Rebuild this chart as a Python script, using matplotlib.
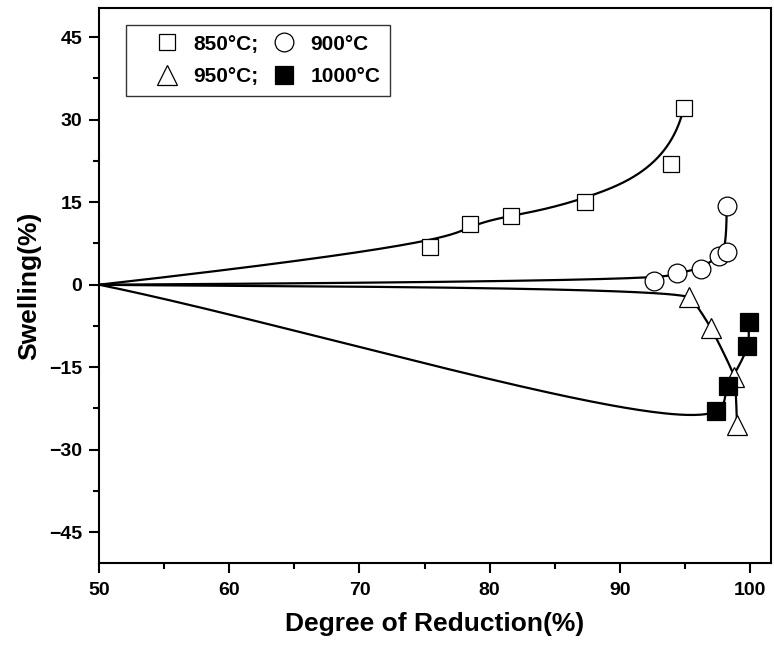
import numpy as np
import matplotlib
matplotlib.use('Agg')
import matplotlib.pyplot as plt
from matplotlib.ticker import MultipleLocator

# data (degree of reduction %, swelling %)
x850 = [75.4, 78.5, 81.6, 87.3, 93.9, 94.9]
y850 = [6.8, 11.0, 12.5, 15.1, 22.0, 32.1]
x900 = [92.6, 94.4, 96.2, 97.6, 98.2, 98.2]
y900 = [0.6, 2.2, 2.8, 5.3, 6.0, 14.3]
x950 = [95.3, 97.0, 98.8, 99.0]
y950 = [-2.3, -7.9, -16.8, -25.6]
x1000 = [97.4, 98.3, 99.8, 99.9]
y1000 = [-23.0, -18.5, -11.1, -6.7]
start = (50.0, 0.0)   # every fitted curve starts from the origin of the x-axis
labels = ['850°C;', '900°C', '950°C;', '1000°C']

SC = np.array([13.02, 5.51])   # data units -> screen pixels, for chord lengths


def bspline(xs, ys, n=600, k=3):
    # clamped cubic B-spline with the points as control points
    P = np.column_stack([xs, ys])
    m = len(P)
    kn = np.concatenate([[0] * k, np.arange(m - k + 1), [m - k] * k]).astype(float)
    u = np.linspace(0, m - k, n)
    u[-1] -= 1e-9
    N = np.array([(kn[i] <= u) & (u < kn[i + 1]) for i in range(len(kn) - 1)], float)
    for d in range(1, k + 1):
        Nn = np.zeros((len(kn) - 1 - d, n))
        for i in range(len(kn) - 1 - d):
            if kn[i + d] > kn[i]:
                Nn[i] += (u - kn[i]) / (kn[i + d] - kn[i]) * N[i]
            if kn[i + d + 1] > kn[i + 1]:
                Nn[i] += (kn[i + d + 1] - u) / (kn[i + d + 1] - kn[i + 1]) * N[i + 1]
        N = Nn
    c = N.T @ P
    return c[:, 0], c[:, 1]


def cr_spline(xs, ys, tension=0.0, n=150):
    # centripetal Catmull-Rom (Hermite form) with a tension factor
    P = np.column_stack([xs, ys]) * SC
    P = np.vstack([2 * P[0] - P[1], P, 2 * P[-1] - P[-2]])
    t = np.concatenate([[0], np.cumsum(np.linalg.norm(np.diff(P, axis=0), axis=1) ** 0.5)])
    M = np.zeros_like(P)
    for i in range(1, len(P) - 1):
        M[i] = ((P[i] - P[i - 1]) / (t[i] - t[i - 1])
                - (P[i + 1] - P[i - 1]) / (t[i + 1] - t[i - 1])
                + (P[i + 1] - P[i]) / (t[i + 1] - t[i]))
    M *= (1 - tension)
    segs = []
    for i in range(1, len(P) - 2):
        dt = t[i + 1] - t[i]
        s = np.linspace(0, 1, n)[:, None]
        h00 = 2 * s**3 - 3 * s**2 + 1
        h10 = s**3 - 2 * s**2 + s
        h01 = -2 * s**3 + 3 * s**2
        h11 = s**3 - s**2
        segs.append(h00 * P[i] + h10 * dt * M[i] + h01 * P[i + 1] + h11 * dt * M[i + 1])
    c = np.vstack(segs) / SC
    return c[:, 0], c[:, 1]


fig = plt.figure(figsize=(7.74, 6.46), dpi=100)
ax = fig.add_axes([0.128, 0.1285, 0.868, 0.859])

series = [
    (x850, y850, 's', 'white', 12, lambda a, b: bspline(a, b)),
    (x900, y900, 'o', 'white', 13.5, lambda a, b: bspline(a, b)),
    (x950, y950, '^', 'white', 15, lambda a, b: cr_spline(a, b, 0.65)),
    (x1000, y1000, 's', 'black', 12.5, lambda a, b: cr_spline(a, b, 0.0)),
]
handles = []
for xs, ys, mk, fc, ms, fit in series:
    cx, cy = fit([start[0]] + xs, [start[1]] + ys)
    ax.plot(cx, cy, color='black', lw=1.6, zorder=2)
    h, = ax.plot(xs, ys, linestyle='none', marker=mk, ms=ms, mfc=fc,
                 mec='black', mew=0.9, zorder=3)
    handles.append(h)

ax.set_xlim(50, 101.6)
ax.set_ylim(-50.6, 50.3)
ax.xaxis.set_major_locator(MultipleLocator(10))
ax.xaxis.set_minor_locator(MultipleLocator(5))
ax.yaxis.set_major_locator(MultipleLocator(15))
ax.yaxis.set_minor_locator(MultipleLocator(7.5))
ax.tick_params(which='major', direction='out', length=7, width=1.5)
ax.tick_params(which='minor', direction='out', length=4, width=1.5)
ax.tick_params(axis='x', pad=7)
ax.tick_params(axis='y', pad=5)
for s in ax.spines.values():
    s.set_linewidth(1.5)

for lb in ax.get_xticklabels() + ax.get_yticklabels():
    lb.set_fontfamily('Liberation Sans')
    lb.set_fontweight('bold')
    lb.set_fontsize(14)

ax.set_xlabel('Degree of Reduction(%)', fontsize=19, fontweight='bold',
              family='Liberation Sans', labelpad=9)
ax.set_ylabel('Swelling(%)', fontsize=19, fontweight='bold',
              family='Liberation Sans', labelpad=6)

order = [0, 2, 1, 3]
leg = ax.legend([handles[i] for i in order], [labels[i] for i in order],
                ncol=2, loc='upper left', bbox_to_anchor=(0.0405, 0.969),
                frameon=True, fancybox=False, edgecolor='black',
                handlelength=3.0, handletextpad=-0.25, columnspacing=-0.25,
                borderpad=0.45, labelspacing=0.65, borderaxespad=0,
                prop=dict(family='Liberation Sans', weight='bold', size=15))
leg.get_frame().set_linewidth(1.0)

plt.savefig('out.png', dpi=100)
